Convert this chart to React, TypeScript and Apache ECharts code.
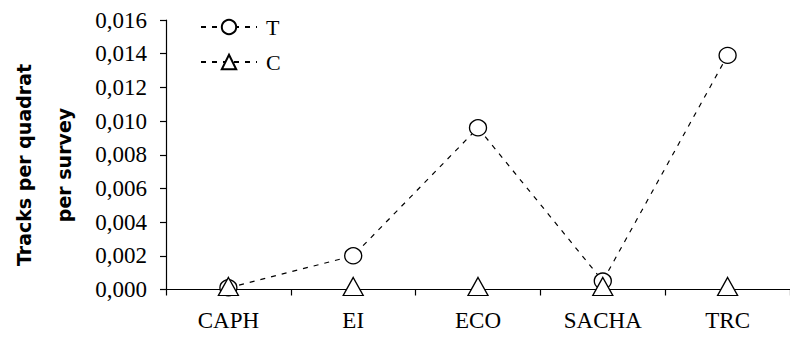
import React, { useEffect, useRef } from "react";
import * as echarts from "echarts";

// Sites along the x axis
const sites: string[] = ["CAPH", "EI", "ECO", "SACHA", "TRC"];
// Tracks per quadrat per survey, treatment (T) and control (C)
const seriesT: number[] = [0.0001, 0.002, 0.0096, 0.0005, 0.0139];
const seriesC: number[] = [0, 0, 0, 0, 0];
// Y axis range
const yMin = 0;
const yMax = 0.016;
const yStep = 0.002;
const titleLines: string[] = ["Tracks per quadrat", "per survey"];

const serif = "Liberation Serif, serif";
const sans = "DejaVu Sans";

export default function App() {
  const ref = useRef<HTMLDivElement>(null);

  useEffect(() => {
    if (!ref.current) return;
    const chart = echarts.init(ref.current, undefined, { renderer: "svg" });
    const dash = [5, 6];
    const labelFont = { fontFamily: serif, fontSize: 23, color: "#000", fontWeight: "normal" as const };
    chart.setOption({
      animation: false,
      backgroundColor: "#ffffff",
      textStyle: { fontFamily: serif },
      grid: { left: 166, right: -5, top: 20, bottom: 47.5, containLabel: false },
      legend: {
        orient: "vertical",
        left: 200,
        top: 16,
        padding: 0,
        itemWidth: 56,
        itemHeight: 18,
        itemGap: 13,
        selectedMode: false,
        data: ["T", "C"],
        textStyle: { ...labelFont, fontSize: 22, padding: [0, 0, 0, 4] },
      },
      xAxis: {
        type: "category",
        data: sites,
        boundaryGap: true,
        axisLine: { show: true, onZero: false, lineStyle: { color: "#000", width: 1.2 } },
        axisTick: { show: true, inside: false, length: 6, alignWithLabel: false, lineStyle: { color: "#000", width: 1.2 } },
        axisLabel: { ...labelFont, margin: 19 },
        splitLine: { show: false },
      },
      yAxis: {
        type: "value",
        min: yMin,
        max: yMax,
        interval: yStep,
        axisLine: { show: true, lineStyle: { color: "#000", width: 1.2 } },
        axisTick: { show: true, inside: false, length: 6, lineStyle: { color: "#000", width: 1.2 } },
        axisLabel: {
          ...labelFont,
          margin: 19,
          formatter: (v: number) => v.toFixed(3).replace(".", ","),
        },
        splitLine: { show: false },
      },
      graphic: titleLines.map((t, i) => ({
        type: "text",
        x: 24 + i * 40,
        y: 165,
        rotation: Math.PI / 2,
        style: {
          text: t,
          fontFamily: sans,
          fontWeight: "bold",
          fontSize: 19,
          fill: "#000",
          align: "center",
          verticalAlign: "middle",
        },
      })),
      series: [
        {
          name: "T",
          type: "line",
          data: seriesT,
          symbol: "circle",
          symbolSize: [17, 16],
          lineStyle: { color: "#000", width: 1.2, type: dash },
          itemStyle: { color: "#fff", borderColor: "#000", borderWidth: 1.3 },
          z: 2,
        },
        {
          name: "C",
          type: "line",
          data: seriesC,
          symbol: "triangle",
          symbolSize: [20, 18],
          symbolOffset: [0, -3],
          lineStyle: { color: "#000", width: 1.2, type: dash },
          itemStyle: { color: "#fff", borderColor: "#000", borderWidth: 1.3 },
          z: 3,
        },
      ],
    });
    return () => chart.dispose();
  }, []);

  return (
    <div
      ref={ref}
      style={{ position: "fixed", left: 0, top: 0, width: 790, height: 337, background: "#fff" }}
    />
  );
}
